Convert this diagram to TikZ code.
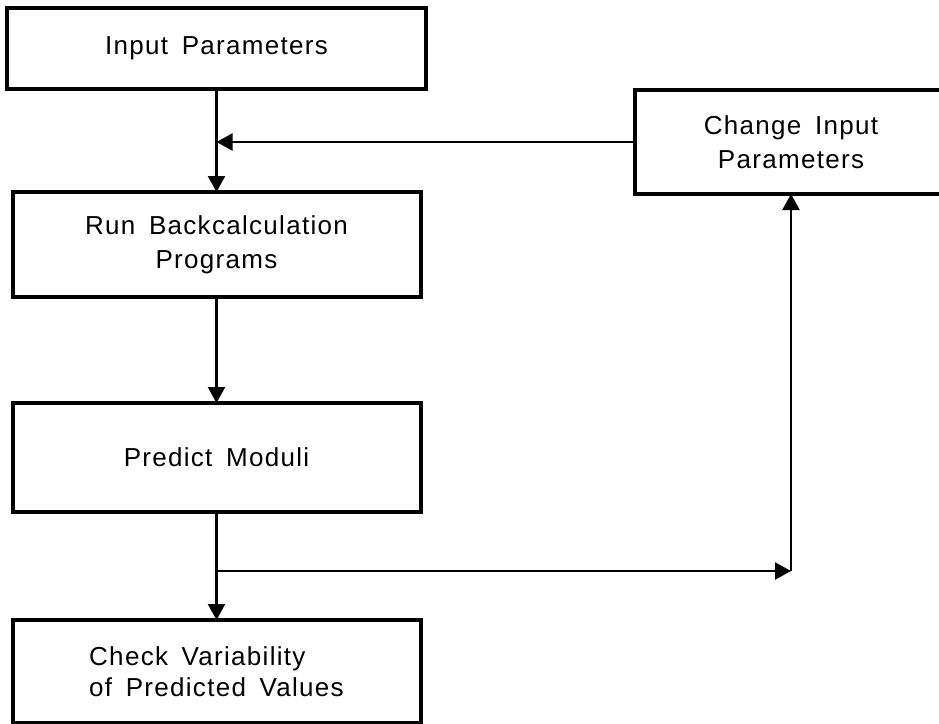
\documentclass[tikz,border=0pt]{standalone}
\usepackage{fontspec}
\setmainfont{Liberation Sans}[LetterSpace=5,WordSpace=1.6]
\usetikzlibrary{arrows.meta,calc}
\begin{document}
\begin{tikzpicture}[x=1pt,y=-1pt,
  box/.style={draw=black,line width=4pt,rectangle,inner sep=0pt,outer sep=0pt,
    font=\fontsize{26}{34}\selectfont,align=center},
  arr/.style={line width=2.3pt,-{Triangle[length=16pt,width=17pt]}}]
\useasboundingbox (0,0) rectangle (939,723);
\clip (0,0) rectangle (939,723);
\fill[white] (0,0) rectangle (939,723);
\node[box,minimum width=419pt,minimum height=81pt] (inp) at (216.5,48.5) {Input Parameters};
\node[box,minimum width=408pt,minimum height=105pt] (run) at (216.5,244.5) {Run Backcalculation\\Programs};
\node[box,minimum width=408pt,minimum height=109pt] (pred) at (216.5,457.5) {Predict Moduli};
\node[box,minimum width=408pt,minimum height=103pt] (chk) at (216.5,671.5) {};
\node[font=\fontsize{26}{31}\selectfont,align=left,anchor=west,inner sep=0pt] (chktxt) at (89,672) {Check Variability\\of Predicted Values};
\node[box,minimum width=312pt,minimum height=104pt] (chg) at (791,142) {Change Input\\Parameters};
\draw[arr] (inp.south) -- (run.north);
\draw[arr] (chg.west) -- (chg.west -| inp.south);
\draw[arr] (run.south) -- (pred.north);
\draw[arr] (pred.south) -- (chk.north);
\coordinate (br) at (216.5,571);
\coordinate (corner) at (chg.south |- br);
\draw[arr] (br) -- (corner);
\draw[arr] (corner) -- (chg.south);
\end{tikzpicture}
\end{document}
